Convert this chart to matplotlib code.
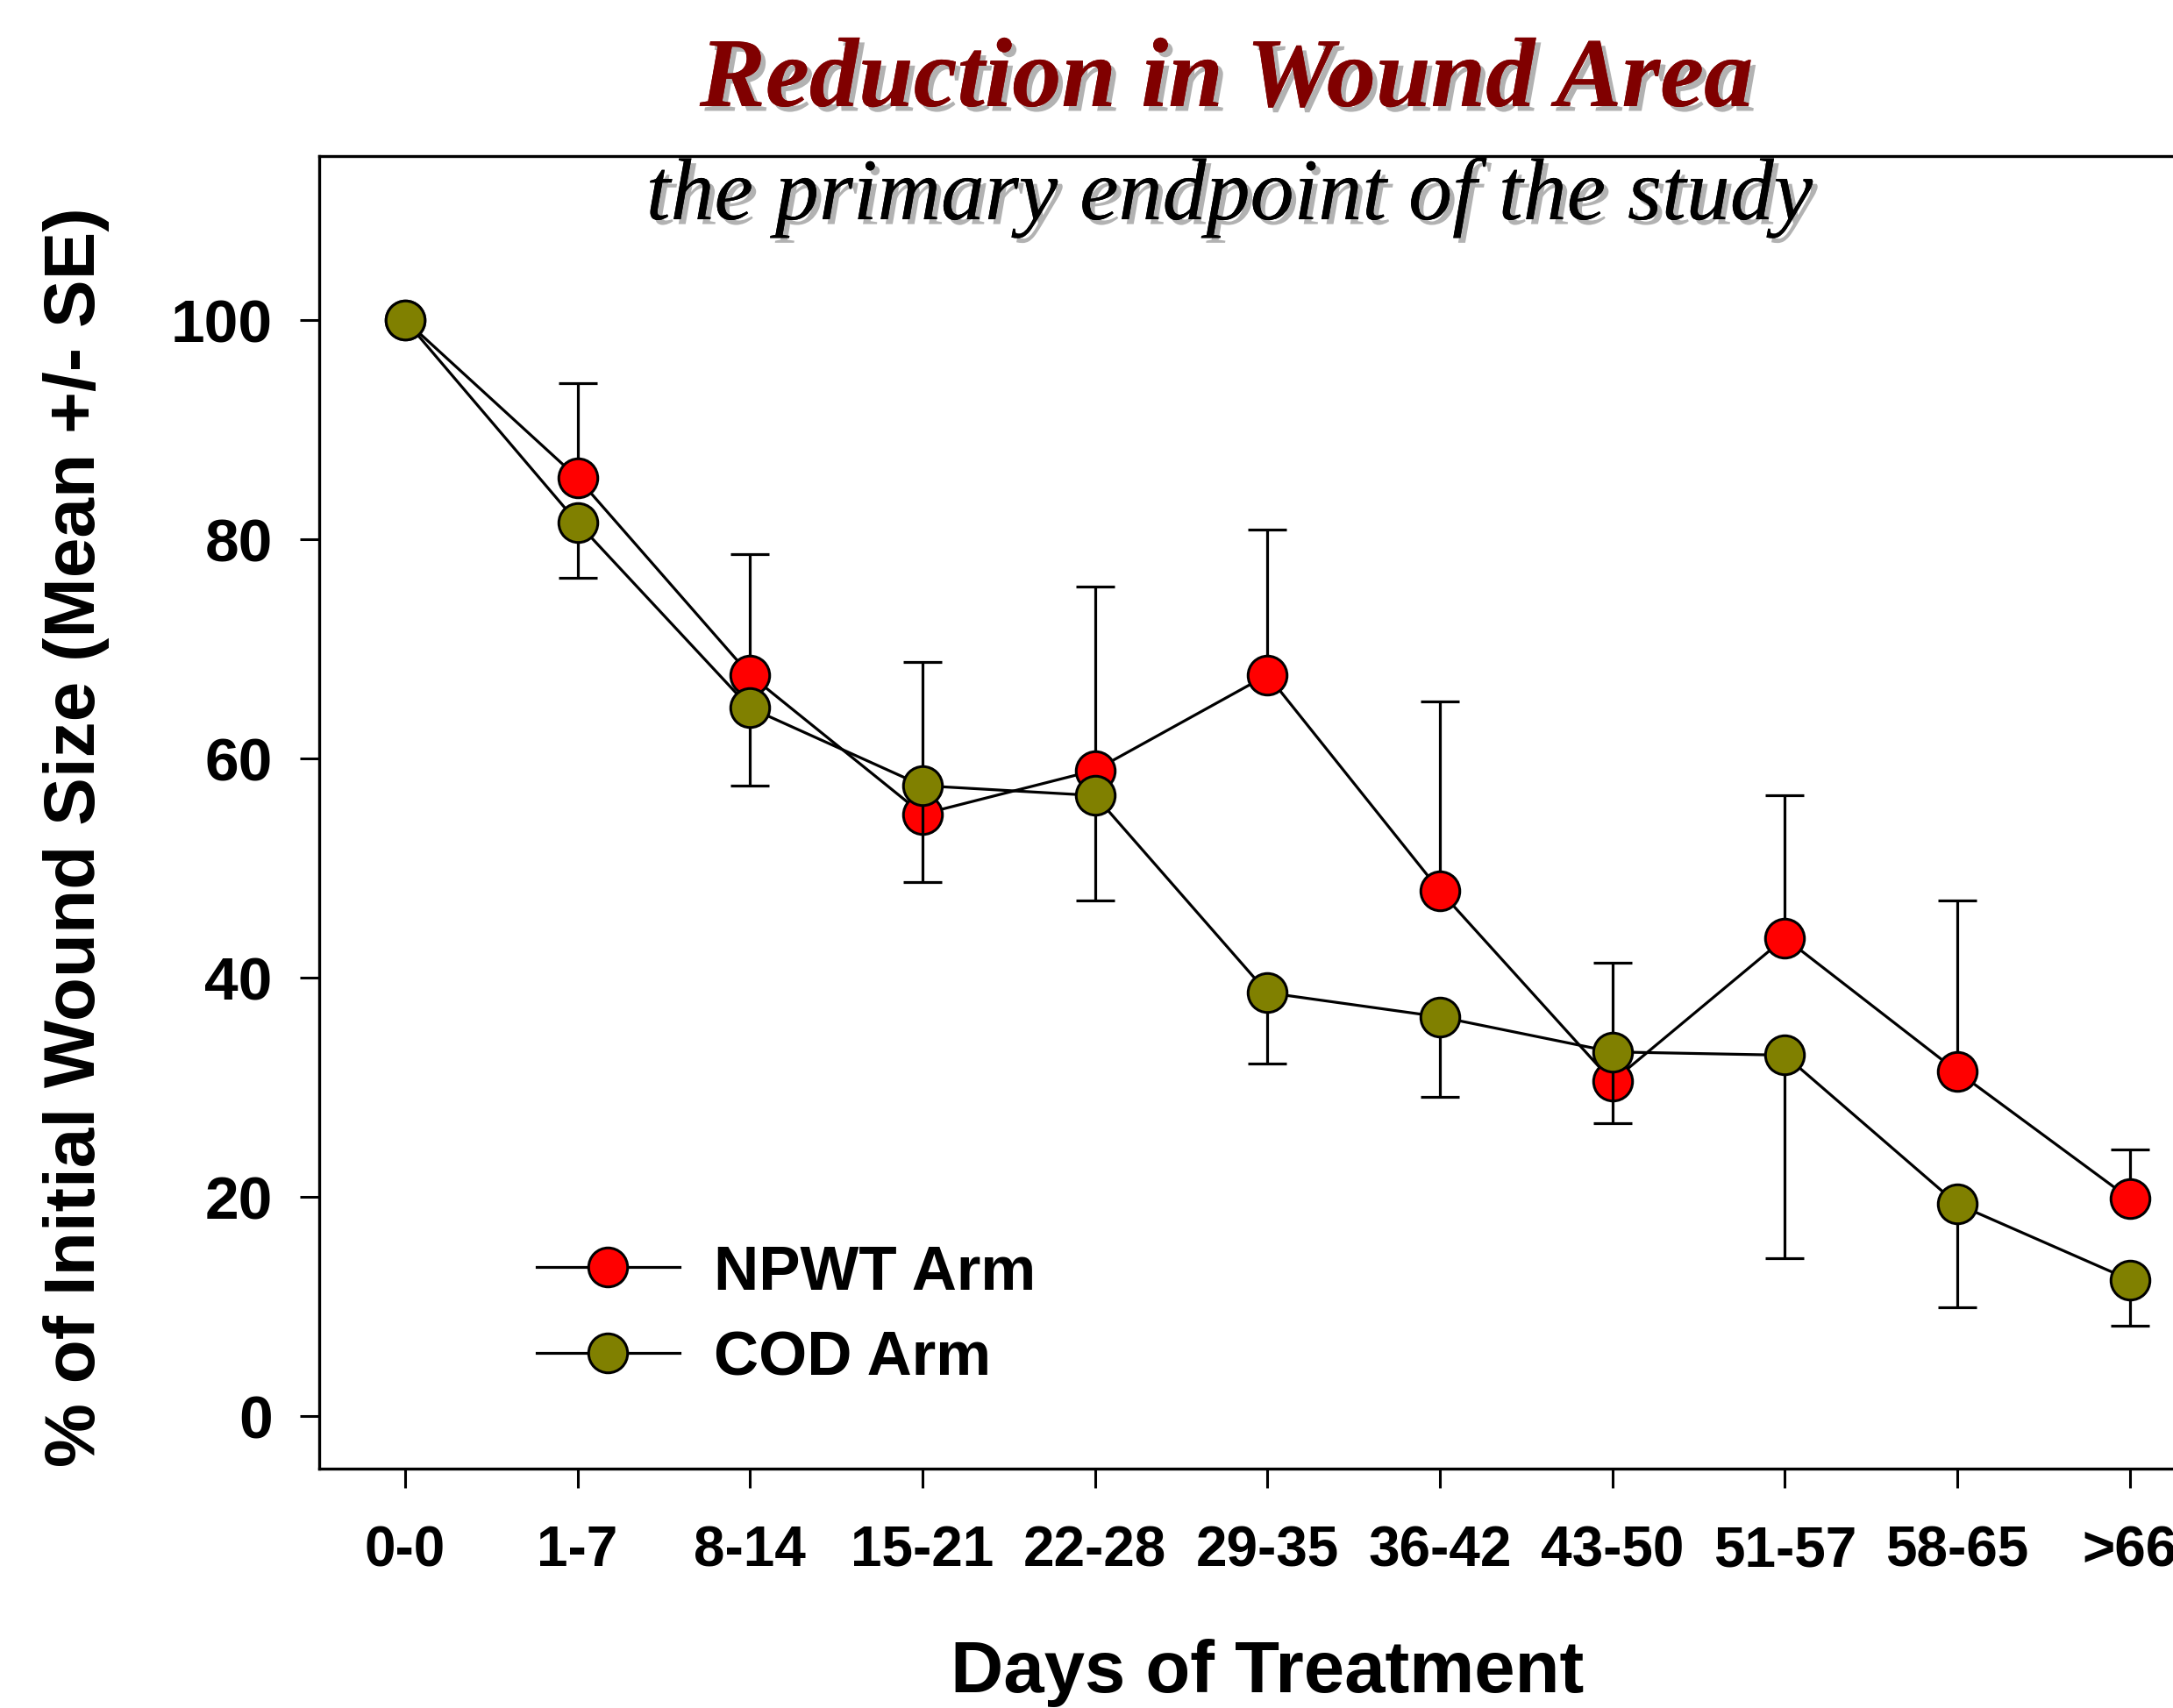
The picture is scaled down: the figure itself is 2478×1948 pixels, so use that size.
import numpy as np
import matplotlib
matplotlib.use('Agg')
import matplotlib.pyplot as plt
import matplotlib.patheffects as pe

# --- data ---
day_bins = ['0-0', '1-7', '8-14', '15-21', '22-28', '29-35', '36-42',
            '43-50', '51-57', '58-65', '>66']
npwt_mean = [100, 85.6, 67.6, 54.9, 58.9, 67.6, 47.9, 30.5, 43.6, 31.4, 19.8]
npwt_upper = [100, 94.2, 78.6, 68.8, 75.7, 80.9, 65.2, 41.3, 56.6, 47.0, 24.3]
cod_mean = [100, 81.5, 64.6, 57.5, 56.6, 38.6, 36.4, 33.2, 32.9, 19.3, 12.4]
cod_lower = [100, 76.5, 57.5, 48.7, 47.0, 32.1, 29.1, 26.7, 14.4, 9.9, 8.2]

x = np.arange(len(day_bins))
npwt_mean = np.array(npwt_mean)
cod_mean = np.array(cod_mean)
npwt_err = np.array(npwt_upper) - npwt_mean
cod_err = cod_mean - np.array(cod_lower)

plt.rcParams['font.family'] = ['Liberation Sans', 'DejaVu Sans']

fig = plt.figure(figsize=(24.78, 19.49), dpi=100)
ax = fig.add_axes([0.1467, 0.1403, 0.8731, 0.7681])

lw = 2.3
ms = 32

# NPWT: error bars up only
ax.errorbar(x[1:], npwt_mean[1:], yerr=[np.zeros(len(x) - 1), npwt_err[1:]],
            fmt='none', ecolor='black', elinewidth=lw, capsize=16, capthick=lw, zorder=2)
npwt_line, = ax.plot(x, npwt_mean, color='black', lw=lw, marker='o', ms=ms,
                     mfc='#ff0000', mec='black', mew=2.2, zorder=3, label='NPWT Arm')

# COD: error bars down only
ax.errorbar(x[1:], cod_mean[1:], yerr=[cod_err[1:], np.zeros(len(x) - 1)],
            fmt='none', ecolor='black', elinewidth=lw, capsize=16, capthick=lw, zorder=4)
cod_line, = ax.plot(x, cod_mean, color='black', lw=lw, marker='o', ms=ms,
                    mfc='#808000', mec='black', mew=2.2, zorder=5, label='COD Arm')

ax.set_xlim(-0.5, 10.5)
ax.set_ylim(-4.8, 115)
ax.set_yticks([0, 20, 40, 60, 80, 100])
ax.set_xticks(x)
ax.set_xticklabels(day_bins)

for s in ax.spines.values():
    s.set_linewidth(2.4)
ax.tick_params(axis='both', direction='out', length=16, width=2.2)
ax.tick_params(axis='y', pad=22, labelsize=50)
ax.tick_params(axis='x', pad=30, labelsize=46)
for lab in ax.get_xticklabels() + ax.get_yticklabels():
    lab.set_fontweight('bold')

ax.set_xlabel('Days of Treatment', fontsize=60, fontweight='bold', labelpad=50)
fig.text(0.035, 0.510, '% of Initial Wound Size (Mean +/- SE)', rotation=90,
         fontsize=59, fontweight='bold', ha='center', va='center')

leg = ax.legend(handles=[npwt_line, cod_line], loc='center left',
                bbox_to_anchor=(0.1147, 0.116), frameon=False,
                prop={'size': 51, 'weight': 'bold'}, handlelength=2.3,
                handletextpad=0.55, labelspacing=0.45, borderpad=0,
                borderaxespad=0)

shadow = [pe.withSimplePatchShadow(offset=(4, -4), shadow_rgbFace='gray', alpha=0.6),
          pe.Normal()]
fig.text(0.5644, 0.9513, 'Reduction in Wound Area', fontsize=81,
         family='Liberation Serif', style='italic', fontweight='bold',
         color='#800000', ha='center', va='center', path_effects=shadow)
fig.text(0.5657, 0.884, 'the primary endpoint of the study', fontsize=72,
         family='Liberation Serif', style='italic', color='black',
         ha='center', va='center', path_effects=shadow)

plt.savefig('out.png', dpi=100)
